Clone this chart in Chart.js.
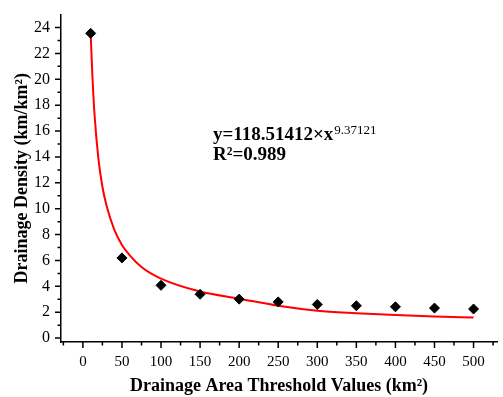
<!DOCTYPE html>
<html>
<head>
<meta charset="utf-8">
<script src="https://cdn.jsdelivr.net/npm/chart.js@4"></script>
<style>
  html, body { margin: 0; padding: 0; background: #fff; }
  #wrap { width: 503px; height: 397px; }
</style>
</head>
<body>
<div id="wrap"><canvas id="chart" width="503" height="397"></canvas></div>
<script>
// Datos
const THRESHOLDS = [10, 50, 100, 150, 200, 250, 300, 350, 400, 450, 500];
const DENSITY = [23.55, 6.2, 4.08, 3.39, 3.01, 2.8, 2.6, 2.5, 2.42, 2.32, 2.25];

const FIT_X = [10, 12, 15, 20, 25, 30, 40, 50, 60, 75, 100, 150, 200, 250, 300, 350, 400, 450, 500];
const FIT_Y = [23.5, 20.5, 17.2, 13.8, 11.7, 10.3, 8.4, 7.2, 6.4, 5.5, 4.6, 3.6, 3.05, 2.5, 2.12, 1.93, 1.78, 1.67, 1.6];

const X_TICKS = [0, 50, 100, 150, 200, 250, 300, 350, 400, 450, 500];
const X_MINOR = [-25, 25, 75, 125, 175, 225, 275, 325, 375, 425, 475, 525];
const Y_TICKS = [0, 2, 4, 6, 8, 10, 12, 14, 16, 18, 20, 22, 24];
const Y_MINOR = [1, 3, 5, 7, 9, 11, 13, 15, 17, 19, 21, 23];

const EQ_MAIN = 'y=118.51412×x';
const EQ_EXP = '9.37121';
const EQ_R2 = 'R²=0.989';

const SERIF = '"Liberation Serif", "Times New Roman", serif';

// marcas de eje (mayores y menores) hacia afuera
const tickMarks = {
    id: 'tickMarks',
    afterDraw(chart) {
        const ctx = chart.ctx;
        const xs = chart.scales.x, ys = chart.scales.y;
        ctx.save();
        ctx.strokeStyle = '#000';
        ctx.lineWidth = 1.5;
        ctx.beginPath();
        X_TICKS.forEach(v => {
            const px = xs.getPixelForValue(v);
            ctx.moveTo(px, xs.top); ctx.lineTo(px, xs.top + 6);
        });
        X_MINOR.forEach(v => {
            const px = xs.getPixelForValue(v);
            ctx.moveTo(px, xs.top); ctx.lineTo(px, xs.top + 3.5);
        });
        Y_TICKS.forEach(v => {
            const py = ys.getPixelForValue(v);
            ctx.moveTo(ys.right, py); ctx.lineTo(ys.right - 6, py);
        });
        Y_MINOR.forEach(v => {
            const py = ys.getPixelForValue(v);
            ctx.moveTo(ys.right, py); ctx.lineTo(ys.right - 3.5, py);
        });
        ctx.stroke();

        // ecuación
        ctx.fillStyle = '#000';
        ctx.textBaseline = 'alphabetic';
        ctx.font = 'bold 19px ' + SERIF;
        ctx.fillText(EQ_MAIN, 213, 140);
        const w = ctx.measureText(EQ_MAIN).width;
        ctx.font = '13px ' + SERIF;
        ctx.fillText(EQ_EXP, 213 + w + 1, 134);
        ctx.font = 'bold 19px ' + SERIF;
        ctx.fillText(EQ_R2, 213, 160);
        ctx.restore();
    }
};

new Chart(document.getElementById('chart'), {
    type: 'scatter',
    data: {
        datasets: [
            {
                label: 'fit',
                data: FIT_X.map((x, i) => ({ x: x, y: FIT_Y[i] })),
                showLine: true,
                borderColor: '#ff0000',
                borderWidth: 2,
                pointRadius: 0,
                cubicInterpolationMode: 'monotone',
                order: 2
            },
            {
                label: 'Drainage Density',
                data: THRESHOLDS.map((x, i) => ({ x: x, y: DENSITY[i] })),
                pointStyle: 'rectRot',
                pointRadius: 5,
                backgroundColor: '#000',
                borderColor: '#000',
                borderWidth: 1,
                order: 1
            }
        ]
    },
    options: {
        responsive: false,
        animation: false,
        layout: { padding: { top: 12, right: 3, left: 0, bottom: 0 } },
        plugins: { legend: { display: false }, tooltip: { enabled: false } },
        scales: {
            x: {
                type: 'linear',
                min: -28,
                max: 530,
                afterBuildTicks: s => { s.ticks = X_TICKS.map(v => ({ value: v })); },
                afterFit: s => { s.height = 55; },
                grid: { display: true, drawOnChartArea: false, drawTicks: true, tickLength: 6, color: 'rgba(0,0,0,0)' },
                border: { display: true, color: '#000', width: 1.5 },
                ticks: { color: '#000', padding: 5, maxRotation: 0, font: { family: SERIF, size: 15 } },
                title: {
                    display: true,
                    text: 'Drainage Area Threshold Values (km²)',
                    color: '#000',
                    padding: { top: 0, bottom: 0 },
                    font: { family: SERIF, size: 18, weight: 'bold' }
                }
            },
            y: {
                type: 'linear',
                min: -0.3,
                max: 25,
                afterBuildTicks: s => { s.ticks = Y_TICKS.map(v => ({ value: v })); },
                afterFit: s => { s.width = 61; },
                grid: { display: true, drawOnChartArea: false, drawTicks: true, tickLength: 6, color: 'rgba(0,0,0,0)' },
                border: { display: true, color: '#000', width: 1.5 },
                ticks: { color: '#000', padding: 5, font: { family: SERIF, size: 16 } },
                title: {
                    display: true,
                    text: 'Drainage Density (km/km²)',
                    color: '#000',
                    padding: { top: 12, bottom: 0 },
                    font: { family: SERIF, size: 18, weight: 'bold' }
                }
            }
        }
    },
    plugins: [tickMarks]
});
</script>
</body>
</html>
